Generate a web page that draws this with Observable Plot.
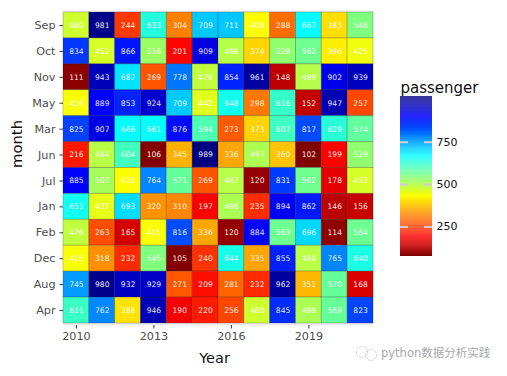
<!DOCTYPE html>
<html>
<head>
<meta charset="utf-8">
<script src="https://cdn.jsdelivr.net/npm/d3@7"></script>
<script src="https://cdn.jsdelivr.net/npm/@observablehq/plot@0.6"></script>
<style>
html,body{margin:0;padding:0;background:#fff;width:507px;height:376px;overflow:hidden}
#wrap{position:relative;width:507px;height:376px;font-family:"DejaVu Sans",sans-serif}
#bar{position:absolute;left:370px;top:70px}
#mark{position:absolute;left:353px;top:344px;display:flex;align-items:center;color:#a8a8a8;font-size:11.5px;line-height:18px;white-space:nowrap;font-family:"DejaVu Sans","Noto Sans CJK SC",sans-serif}
</style>
</head>
<body>
<div id="wrap">
  <div id="main"></div>
  <div id="bar"></div>
  <div id="mark"><svg width="28" height="18"><g fill="none" stroke="#bbb" stroke-width="0.8" stroke-dasharray="1.5 1"><circle cx="9" cy="8" r="5.5"/><circle cx="18" cy="11" r="5.5"/></g></svg><span>python数据分析实践</span></div>
</div>
<script>
const years = [2010,2011,2012,2013,2014,2015,2016,2017,2018,2019,2020,2021];
const months = ["Sep","Oct","Nov","May","Mar","Jun","Jul","Jan","Feb","Dec","Aug","Apr"];
const Sep = [460,981,244,633,304,709,711,408,288,667,383,546];
const Oct = [834,452,866,516,201,909,488,374,528,562,396,425];
const Nov = [111,943,687,269,778,476,854,961,148,489,902,939];
const May = [416,889,853,924,709,442,648,298,616,152,947,257];
const Mar = [825,907,666,661,876,594,273,373,607,817,629,574];
const Jun = [216,484,604,106,345,989,336,497,360,102,199,529];
const Jul = [885,507,410,764,571,269,487,120,831,562,178,453];
const Jan = [651,437,693,320,310,197,498,235,894,862,146,156];
const Feb = [476,263,165,415,816,336,120,884,563,696,114,564];
const Dec = [415,318,232,545,105,240,644,335,855,484,765,640];
const Aug = [745,980,932,929,271,209,281,232,962,351,570,168];
const Apr = [611,762,388,946,190,220,256,460,845,498,569,823];
const rows = [Sep,Oct,Nov,May,Mar,Jun,Jul,Jan,Feb,Dec,Aug,Apr];
const xTicks = [2010,2013,2016,2019];
const minorTicks = [2011,2014,2017,2020];
const barTicks = [250,500,750];
const jet = ["#7f0000","#ff0000","#ff7f00","#ffff00","#7fff7f","#00ffff","#007fff","#0000ff","#00007f"];
const colorStops = [102,197,304,410,546,665,770,885,989];
const barRange = [75,1020];

const data = months.flatMap((m,i)=>years.map((y,j)=>({month:m,year:y,passenger:rows[i][j]})));
const colorOpt = {type:"linear",domain:colorStops,range:jet,interpolate:"rgb"};

const tickColor = "#4d4d4d";
const main = Plot.plot({
  width:507,height:376,
  marginLeft:63,marginRight:134,marginTop:10,marginBottom:51,
  style:{fontFamily:"'DejaVu Sans',sans-serif",background:"transparent"},
  x:{type:"band",domain:years,padding:0,round:false,label:null},
  y:{type:"band",domain:months,padding:0,round:false,label:null,insetTop:2,insetBottom:2},
  color:colorOpt,
  marks:[
    Plot.frame({fill:"#ebebeb",stroke:null}),
    Plot.ruleX(xTicks,{x:d=>d,stroke:"#fff",strokeWidth:1}),
    Plot.ruleX(minorTicks,{x:d=>d,dx:13,stroke:"#fff",strokeWidth:0.6}),
    Plot.cell(data,{x:"year",y:"month",fill:"passenger",stroke:"#000",strokeOpacity:0.2,strokeWidth:1}),
    Plot.text(data,{x:"year",y:"month",text:"passenger",fill:"#fff",fillOpacity:0.92,fontSize:7.6}),
    Plot.axisX({ticks:xTicks,tickFormat:d=>String(d),tickSize:3.5,tickPadding:3.5,fontSize:11.2,color:tickColor,stroke:"#333",label:null}),
    Plot.axisY({tickSize:3.5,tickPadding:4.5,fontSize:11.2,color:tickColor,stroke:"#333",label:null}),
    Plot.text(["Year"],{frameAnchor:"bottom",dx:-4,dy:27,fontSize:14.5,fill:"#111",lineAnchor:"top"}),
    Plot.text(["month"],{frameAnchor:"left",dx:-46,rotate:-90,fontSize:14.8,fill:"#111"})
  ]
});
document.getElementById("main").appendChild(main);

const levels = d3.range(barRange[0],barRange[1],6);
const barStops = jet.map((c,i)=>barRange[0]+(barRange[1]-barRange[0])*i/(jet.length-1));
const bar = Plot.plot({
  width:137,height:190,
  marginLeft:30,marginRight:75,marginTop:26,marginBottom:4,
  style:{fontFamily:"'DejaVu Sans',sans-serif",background:"transparent"},
  x:{domain:[0,1],axis:null},
  y:{domain:barRange,label:null},
  color:{type:"linear",domain:barStops,range:jet,interpolate:"rgb"},
  marks:[
    Plot.rect(levels,{x1:0,x2:1,y1:d=>d,y2:d=>Math.min(barRange[1],d+6.5),fill:d=>d+3}),
    Plot.ruleY(barTicks,{x1:0,x2:0.25,stroke:"#cfcfcf",strokeWidth:2}),
    Plot.ruleY(barTicks,{x1:0.75,x2:1,stroke:"#cfcfcf",strokeWidth:2}),
    Plot.axisY({anchor:"right",ticks:barTicks,tickSize:0,tickPadding:4,fontSize:11,color:"#111",label:null}),
    Plot.text(["passenger"],{frameAnchor:"top-left",dy:-14,textAnchor:"start",fontSize:15,fill:"#111"})
  ]
});
document.getElementById("bar").appendChild(bar);
</script>
</body>
</html>
